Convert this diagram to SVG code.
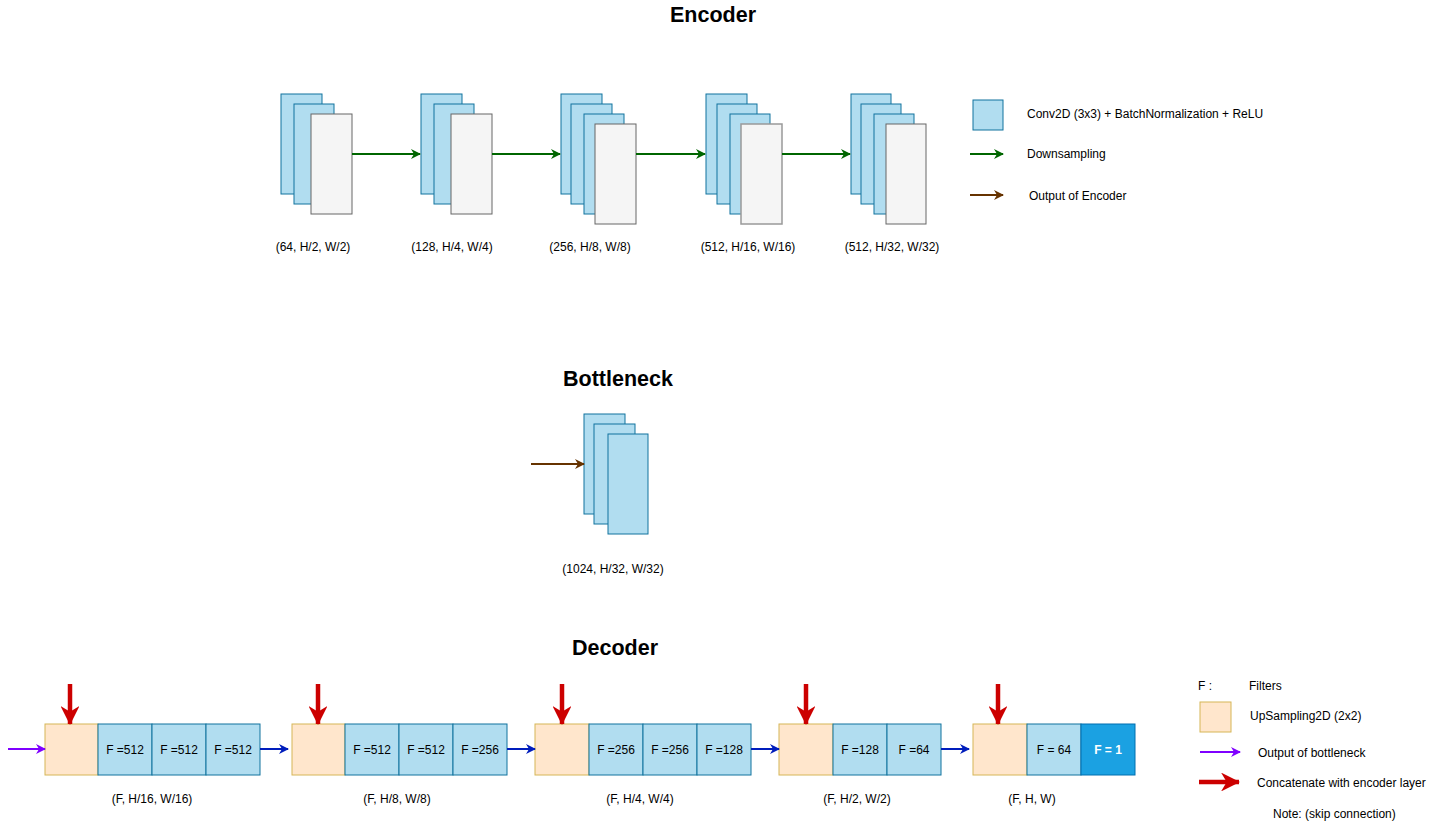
<svg xmlns="http://www.w3.org/2000/svg" width="1436" height="829" viewBox="0 0 1436 829">
<style>
text{font-family:"Liberation Sans",Arial,sans-serif;fill:#000}
.t{font-size:21.5px;font-weight:bold;text-anchor:middle}
.l{font-size:12px;text-anchor:middle}
.g{font-size:12px}
.c{font-size:12px;text-anchor:middle}
.b{fill:#b1ddf0;stroke:#10739e;stroke-width:1}
.w{fill:#f5f5f5;stroke:#666666;stroke-width:1}
.o{fill:#ffe6cc;stroke:#d6b656;stroke-width:1}
.d{fill:#1ba1e2;stroke:#006eaf;stroke-width:1}
.gr{stroke:#006600;stroke-width:2;fill:none}
.br{stroke:#663300;stroke-width:2;fill:none}
.pu{stroke:#7f00ff;stroke-width:2;fill:none}
.bl{stroke:#001dbc;stroke-width:2;fill:none}
.rd{stroke:#cc0000;stroke-width:4.5;fill:none}
</style>
<defs>
<marker id="ag" viewBox="0 0 10 10" refX="9" refY="5" markerWidth="5" markerHeight="5" orient="auto"><path d="M0,0 L10,5 L0,10 L3,5 Z" fill="#006600"/></marker>
<marker id="ab" viewBox="0 0 10 10" refX="9" refY="5" markerWidth="5" markerHeight="5" orient="auto"><path d="M0,0 L10,5 L0,10 L3,5 Z" fill="#663300"/></marker>
<marker id="ap" viewBox="0 0 10 10" refX="9" refY="5" markerWidth="5" markerHeight="5" orient="auto"><path d="M0,0 L10,5 L0,10 L3,5 Z" fill="#7f00ff"/></marker>
<marker id="al" viewBox="0 0 10 10" refX="9" refY="5" markerWidth="5" markerHeight="5" orient="auto"><path d="M0,0 L10,5 L0,10 L3,5 Z" fill="#001dbc"/></marker>
<marker id="ar" viewBox="0 0 10 10" refX="9.5" refY="5" markerWidth="4.2" markerHeight="4.2" orient="auto"><path d="M0,0 L10,5 L0,10 L3,5 Z" fill="#cc0000"/></marker>
</defs>
<rect width="1436" height="829" fill="#ffffff"/>

<text class="t" x="713" y="22">Encoder</text>
<text class="t" x="618" y="386">Bottleneck</text>
<text class="t" x="615" y="655">Decoder</text>

<g id="enc1">
<rect class="b" x="281" y="94" width="41" height="100"/>
<rect class="b" x="294" y="104" width="40" height="100"/>
<rect class="w" x="311" y="114" width="41" height="100"/>
<text class="l" x="313" y="251">(64, H/2, W/2)</text>
</g>
<g id="enc2">
<rect class="b" x="421" y="94" width="41" height="100"/>
<rect class="b" x="434" y="104" width="40" height="100"/>
<rect class="w" x="451" y="114" width="41" height="100"/>
<text class="l" x="452" y="251">(128, H/4, W/4)</text>
</g>
<g id="enc3">
<rect class="b" x="561" y="94" width="41" height="100"/>
<rect class="b" x="571" y="104" width="41" height="100"/>
<rect class="b" x="584" y="114" width="40" height="100"/>
<rect class="w" x="595" y="124" width="41" height="100"/>
<text class="l" x="590" y="251">(256, H/8, W/8)</text>
</g>
<g id="enc4">
<rect class="b" x="706" y="94" width="41" height="100"/>
<rect class="b" x="717" y="104" width="40" height="100"/>
<rect class="b" x="730" y="114" width="40" height="100"/>
<rect class="w" x="741" y="124" width="41" height="100" style="stroke:#999999;stroke-width:1.5"/>
<text class="l" x="748" y="251">(512, H/16, W/16)</text>
</g>
<g id="enc5">
<rect class="b" x="851" y="94" width="40" height="100"/>
<rect class="b" x="861" y="104" width="40" height="100"/>
<rect class="b" x="874" y="114" width="40" height="100"/>
<rect class="w" x="886" y="124" width="40" height="100"/>
<text class="l" x="892" y="251">(512, H/32, W/32)</text>
</g>

<g id="legend-enc">
<rect class="b" x="973" y="100" width="30" height="30"/>
<text class="g" x="1027" y="118">Conv2D (3x3) + BatchNormalization + ReLU</text>
<text class="g" x="1027" y="158">Downsampling</text>
<text class="g" x="1029" y="200">Output of Encoder</text>
</g>

<g id="bottleneck">
<rect class="b" x="584" y="414" width="41" height="100"/>
<rect class="b" x="594" y="424" width="41" height="100"/>
<rect class="b" x="608" y="434" width="40" height="100"/>
<text class="l" x="613" y="573">(1024, H/32, W/32)</text>
</g>

<g id="dec1">
<rect class="o" x="45" y="724" width="53" height="51"/>
<rect class="b" x="98" y="724" width="54" height="51"/>
<rect class="b" x="152" y="724" width="54" height="51"/>
<rect class="b" x="206" y="724" width="54" height="51"/>
<text class="c" x="125" y="754">F =512</text>
<text class="c" x="179" y="754">F =512</text>
<text class="c" x="233" y="754">F =512</text>
<text class="l" x="152" y="803">(F, H/16, W/16)</text>
</g>
<g id="dec2">
<rect class="o" x="292" y="724" width="53" height="51"/>
<rect class="b" x="345" y="724" width="54" height="51"/>
<rect class="b" x="399" y="724" width="54" height="51"/>
<rect class="b" x="453" y="724" width="54" height="51"/>
<text class="c" x="372" y="754">F =512</text>
<text class="c" x="426" y="754">F =512</text>
<text class="c" x="480" y="754">F =256</text>
<text class="l" x="397" y="803">(F, H/8, W/8)</text>
</g>
<g id="dec3">
<rect class="o" x="535" y="724" width="54" height="51"/>
<rect class="b" x="589" y="724" width="54" height="51"/>
<rect class="b" x="643" y="724" width="54" height="51"/>
<rect class="b" x="697" y="724" width="54" height="51"/>
<text class="c" x="616" y="754">F =256</text>
<text class="c" x="670" y="754">F =256</text>
<text class="c" x="724" y="754">F =128</text>
<text class="l" x="640" y="803">(F, H/4, W/4)</text>
</g>
<g id="dec4">
<rect class="o" x="779" y="724" width="54" height="51"/>
<rect class="b" x="833" y="724" width="54" height="51"/>
<rect class="b" x="887" y="724" width="54" height="51"/>
<text class="c" x="860" y="754">F =128</text>
<text class="c" x="914" y="754">F =64</text>
<text class="l" x="857" y="803">(F, H/2, W/2)</text>
</g>
<g id="dec5">
<rect class="o" x="973" y="724" width="54" height="51"/>
<rect class="b" x="1027" y="724" width="54" height="51"/>
<rect class="d" x="1081" y="724" width="54" height="51"/>
<text class="c" x="1054" y="754">F = 64</text>
<text class="c" x="1108" y="754" style="fill:#ffffff;font-weight:bold">F = 1</text>
<text class="l" x="1032" y="803">(F, H, W)</text>
</g>

<g id="legend-dec">
<text class="g" x="1198" y="690">F :</text>
<text class="g" x="1249" y="690">Filters</text>
<rect class="o" x="1200" y="702" width="31" height="30"/>
<text class="g" x="1250" y="720">UpSampling2D (2x2)</text>
<text class="g" x="1258" y="757">Output of bottleneck</text>
<text class="g" x="1257" y="787">Concatenate with encoder layer</text>
<text class="g" x="1273" y="818">Note: (skip connection)</text>
</g>

<g id="connectors">
<line class="gr" x1="352" y1="154" x2="420" y2="154" marker-end="url(#ag)"/>
<line class="gr" x1="492" y1="154" x2="560" y2="154" marker-end="url(#ag)"/>
<line class="gr" x1="636" y1="154" x2="705" y2="154" marker-end="url(#ag)"/>
<line class="gr" x1="782" y1="154" x2="850" y2="154" marker-end="url(#ag)"/>
<line class="gr" x1="970" y1="154" x2="1003" y2="154" marker-end="url(#ag)"/>
<line class="br" x1="970" y1="195" x2="1003" y2="195" marker-end="url(#ab)"/>
<line class="br" x1="531" y1="464" x2="584" y2="464" marker-end="url(#ab)"/>
<line class="pu" x1="8" y1="749" x2="45" y2="749" marker-end="url(#ap)"/>
<line class="pu" x1="1200" y1="752" x2="1240" y2="752" marker-end="url(#ap)"/>
<line class="bl" x1="260" y1="749" x2="288" y2="749" marker-end="url(#al)"/>
<line class="bl" x1="507" y1="749" x2="535" y2="749" marker-end="url(#al)"/>
<line class="bl" x1="751" y1="749" x2="779" y2="749" marker-end="url(#al)"/>
<line class="bl" x1="941" y1="749" x2="969" y2="749" marker-end="url(#al)"/>
<line class="rd" x1="70" y1="684" x2="70" y2="724" marker-end="url(#ar)"/>
<line class="rd" x1="318" y1="684" x2="318" y2="724" marker-end="url(#ar)"/>
<line class="rd" x1="562" y1="684" x2="562" y2="724" marker-end="url(#ar)"/>
<line class="rd" x1="806" y1="684" x2="806" y2="724" marker-end="url(#ar)"/>
<line class="rd" x1="998" y1="684" x2="998" y2="724" marker-end="url(#ar)"/>
<line class="rd" x1="1199" y1="782" x2="1239" y2="782" marker-end="url(#ar)"/>
</g>
</svg>
